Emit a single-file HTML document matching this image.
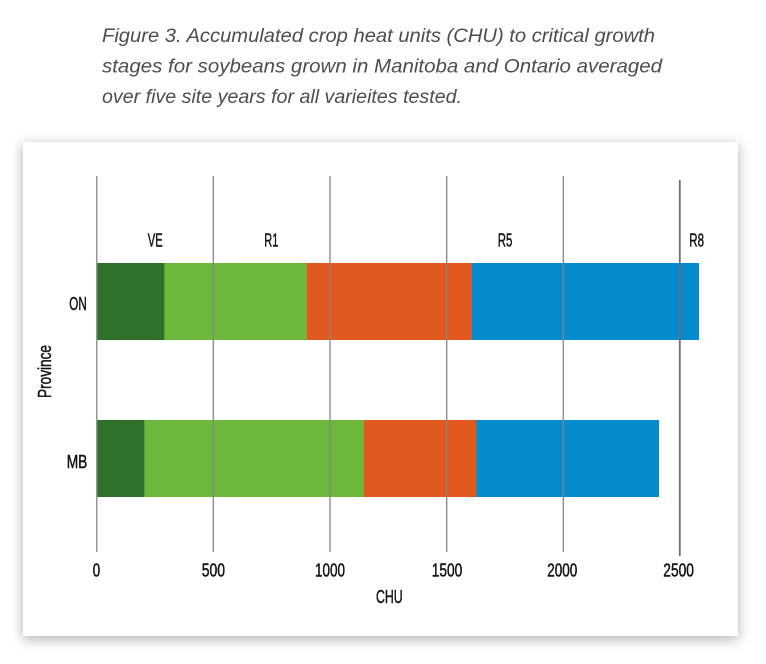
<!DOCTYPE html>
<html>
<head>
<meta charset="utf-8">
<style>
  html,body{margin:0;padding:0;background:#fff;}
  body{width:766px;height:664px;position:relative;overflow:hidden;}
  .card{position:absolute;left:23px;top:142px;width:715px;height:494px;background:#fff;
        box-shadow:0 3px 12px rgba(0,0,0,0.32);}
  svg{position:absolute;left:0;top:0;}
</style>
</head>
<body>
<div class="card"></div>
<svg width="766" height="664" viewBox="0 0 766 664" xmlns="http://www.w3.org/2000/svg">
  <!-- Title -->
  <g font-family="Liberation Sans, sans-serif" font-style="italic" font-size="19.5" fill="#4d4d4d">
    <text x="102" y="42" textLength="553" lengthAdjust="spacingAndGlyphs">Figure 3. Accumulated crop heat units (CHU) to critical growth</text>
    <text x="102" y="72.5" textLength="560" lengthAdjust="spacingAndGlyphs">stages for soybeans grown in Manitoba and Ontario averaged</text>
    <text x="102" y="103" textLength="360" lengthAdjust="spacingAndGlyphs">over five site years for all varieites tested.</text>
  </g>

  <!-- ON bar -->
  <rect x="97" y="263" width="67.5" height="77" fill="#2f702b"/>
  <rect x="164.3" y="263" width="142.5" height="77" fill="#6cb83c"/>
  <rect x="306.7" y="263" width="165.2" height="77" fill="#e05a1f"/>
  <rect x="471.7" y="263" width="227.3" height="77" fill="#048ccf"/>
  <!-- MB bar -->
  <rect x="97" y="420" width="47.5" height="77" fill="#2f702b"/>
  <rect x="144.3" y="420" width="219.6" height="77" fill="#6cb83c"/>
  <rect x="363.7" y="420" width="112.8" height="77" fill="#e05a1f"/>
  <rect x="476.3" y="420" width="182.7" height="77" fill="#048ccf"/>

  <!-- gridlines -->
  <g stroke="#858585" stroke-width="1.3">
    <line x1="96.8" y1="176" x2="96.8" y2="552"/>
    <line x1="213.3" y1="176" x2="213.3" y2="552"/>
    <line x1="330" y1="176" x2="330" y2="552"/>
    <line x1="446.7" y1="176" x2="446.7" y2="552"/>
    <line x1="563.3" y1="176" x2="563.3" y2="552"/>
  </g>
  <line x1="679.8" y1="180" x2="679.8" y2="556" stroke="#6e6e72" stroke-width="1.8"/>

  <!-- stage labels -->
  <g font-family="Liberation Sans, sans-serif" font-size="18" fill="#111" stroke="#111" stroke-width="0.45">
    <text x="147.7" y="246.7" textLength="15" lengthAdjust="spacingAndGlyphs">VE</text>
    <text x="264.3" y="246.7" textLength="14" lengthAdjust="spacingAndGlyphs">R1</text>
    <text x="497.7" y="246.7" textLength="14.6" lengthAdjust="spacingAndGlyphs">R5</text>
    <text x="689.3" y="246.7" textLength="14.7" lengthAdjust="spacingAndGlyphs">R8</text>

    <!-- category labels -->
    <text x="69.3" y="310" textLength="17.4" lengthAdjust="spacingAndGlyphs">ON</text>
    <text x="66.7" y="468" textLength="20.6" lengthAdjust="spacingAndGlyphs">MB</text>

    <!-- tick labels -->
    <text x="92.8" y="576.7" textLength="7.4" lengthAdjust="spacingAndGlyphs">0</text>
    <text x="201.7" y="576.7" textLength="23.3" lengthAdjust="spacingAndGlyphs">500</text>
    <text x="315" y="576.7" textLength="30" lengthAdjust="spacingAndGlyphs">1000</text>
    <text x="431.7" y="576.7" textLength="30.6" lengthAdjust="spacingAndGlyphs">1500</text>
    <text x="547.3" y="576.7" textLength="30" lengthAdjust="spacingAndGlyphs">2000</text>
    <text x="663.3" y="576.7" textLength="30.6" lengthAdjust="spacingAndGlyphs">2500</text>

    <!-- axis titles -->
    <text x="376" y="603" textLength="26.7" lengthAdjust="spacingAndGlyphs">CHU</text>
    <text transform="translate(51,398) rotate(-90)" x="0" y="0" textLength="53" lengthAdjust="spacingAndGlyphs">Province</text>
  </g>
</svg>
</body>
</html>
